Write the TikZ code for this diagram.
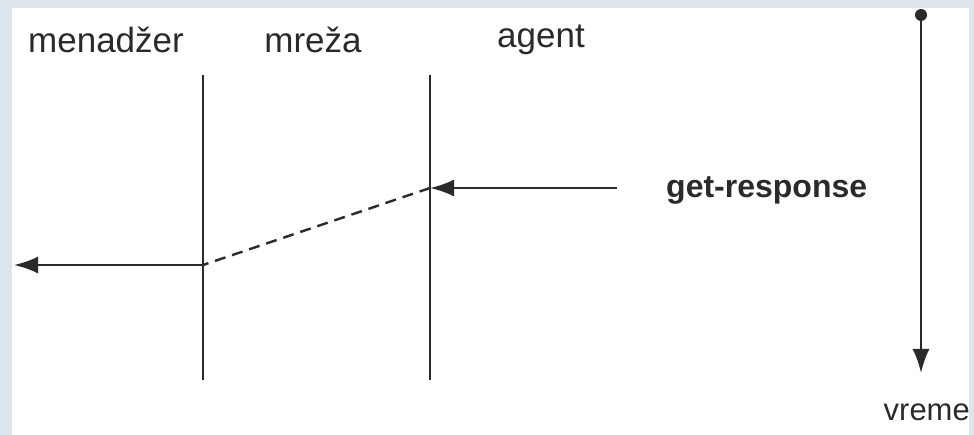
\documentclass[tikz,border=0pt]{standalone}
\usepackage{fontspec}
\setmainfont{Liberation Sans}
\usetikzlibrary{arrows.meta}
\definecolor{frame}{HTML}{DCE6EC}
\definecolor{ink}{HTML}{2A2A2A}
\begin{document}
\begin{tikzpicture}[x=1pt,y=-1pt,
  lbl/.style={inner sep=0pt,font=\fontsize{35}{40}\selectfont,text=ink},
  life/.style={draw=ink,line width=2.4pt},
  msg/.style={draw=ink,line width=2.4pt,-{Latex[length=24pt,width=17pt]}},
  dashline/.style={draw=ink,line width=2.4pt,dash pattern=on 11pt off 7pt}]
\fill[frame] (0,0) rectangle (974,435);
\fill[white] (12,8) rectangle (969,435);
\useasboundingbox (0,0) rectangle (974,435);
\node[lbl] (men) at (106,40) {menadžer};
\node[lbl] (mre) at (313,40) {mreža};
\node[lbl] (age) at (541,40) {agent};
\coordinate (m1) at (203,75);
\coordinate (m2) at (203,380);
\coordinate (a1) at (430,75);
\coordinate (a2) at (430,380);
\draw[life] (m1) -- (m2);
\draw[life] (a1) -- (a2);
\coordinate (rs) at (617,188);
\coordinate (ra) at (430,188);
\coordinate (rm) at (203,265);
\coordinate (re) at (14,265);
\node[lbl,font=\bfseries\fontsize{32}{37}\selectfont,anchor=west] (gr) at (666,190) {get-response};
\draw[msg] (rs) -- (ra);
\draw[dashline] (ra) -- (rm);
\draw[msg] (rm) -- (re);
\coordinate (t0) at (921,15);
\coordinate (t1) at (921,373);
\fill[ink] (t0) circle (6pt);
\draw[msg] (t0) -- (t1);
\node[lbl,font=\fontsize{31}{36}\selectfont,anchor=east] (vr) at (970,412) {vreme};
\end{tikzpicture}
\end{document}
